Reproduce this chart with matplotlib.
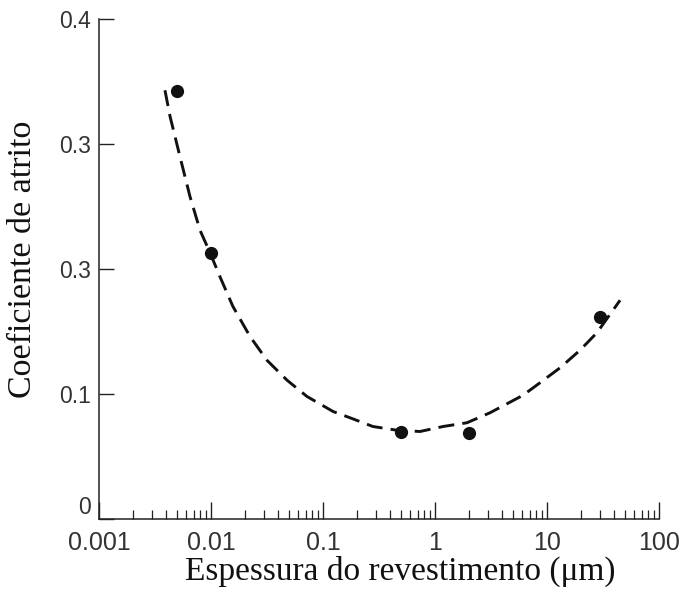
import numpy as np
import matplotlib
matplotlib.use("Agg")
import matplotlib.pyplot as plt
from matplotlib.ticker import LogLocator, NullFormatter, FixedLocator, FixedFormatter

# measured points
espessura = [0.005, 0.01, 0.5, 2.0, 30.0]
atrito = [0.342, 0.213, 0.070, 0.069, 0.162]

# dashed trend curve
curva_x = [0.00388, 0.00431, 0.00528, 0.00649, 0.00798, 0.0098, 0.0120, 0.0157,
           0.0223, 0.0316, 0.0478, 0.0720, 0.123, 0.174, 0.279, 0.458, 0.735,
           1.18, 1.93, 3.10, 6.11, 8.66, 13.1, 19.7, 27.9, 44.9]
curva_y = [0.343, 0.322, 0.290, 0.258, 0.231, 0.213, 0.194, 0.170,
           0.146, 0.127, 0.111, 0.098, 0.086, 0.081, 0.074, 0.071, 0.070,
           0.074, 0.077, 0.085, 0.099, 0.109, 0.121, 0.135, 0.149, 0.175]

# y tick labels as printed in the original (0.2 is labelled 0.3 there)
y_ticks = [0.0, 0.1, 0.2, 0.3, 0.4]
y_labels = ["0", "0.1", "0.3", "0.3", "0.4"]
x_ticks = [0.001, 0.01, 0.1, 1, 10, 100]
x_labels = ["0.001", "0.01", "0.1", "1", "10", "100"]

W, H = 685, 596
fig = plt.figure(figsize=(W / 100, H / 100), dpi=100)
ax = fig.add_axes([99 / W, (H - 519) / H, (659 - 99) / W, (519 - 19) / H])

ax.plot(curva_x, curva_y, color="#111111", lw=2.1, dashes=(5.5, 2.8),
        solid_capstyle="butt", dash_capstyle="butt")
ax.plot(espessura, atrito, "o", color="#111111", ms=8.5)

ax.set_xscale("log")
ax.set_xlim(0.001, 100)
ax.set_ylim(0, 0.4)

ax.xaxis.set_major_locator(FixedLocator(x_ticks))
ax.xaxis.set_major_formatter(FixedFormatter(x_labels))
ax.xaxis.set_minor_locator(LogLocator(base=10, subs=np.arange(2, 10), numticks=20))
ax.xaxis.set_minor_formatter(NullFormatter())
ax.yaxis.set_major_locator(FixedLocator(y_ticks))
ax.yaxis.set_major_formatter(FixedFormatter(y_labels))

for s in ["top", "right"]:
    ax.spines[s].set_visible(False)
for s in ["left", "bottom"]:
    ax.spines[s].set_linewidth(1.1)
    ax.spines[s].set_color("#222222")

ax.tick_params(axis="y", which="major", direction="in", length=11, width=1.0,
               color="#222222", pad=6, labelsize=16.5, labelcolor="#333333")
ax.tick_params(axis="x", which="major", direction="in", length=12, width=1.0,
               color="#222222", pad=9, labelsize=18, labelcolor="#333333")
ax.tick_params(axis="x", which="minor", direction="in", length=6.5, width=0.9,
               color="#222222")
for lab in ax.get_xticklabels() + ax.get_yticklabels():
    lab.set_family("Liberation Sans")
ax.get_yticklabels()[0].set_va("bottom")

ax.set_xlabel("Espessura do revestimento (\u03bcm)", family="Liberation Serif",
              fontsize=24, color="#111111")
ax.set_ylabel("Coeficiente de atrito", family="Liberation Serif",
              fontsize=24.5, color="#111111")
ax.xaxis.set_label_coords(0.5375, -0.074)
ax.yaxis.set_label_coords(-0.109, 0.52)

fig.savefig("out.png", dpi=100)
